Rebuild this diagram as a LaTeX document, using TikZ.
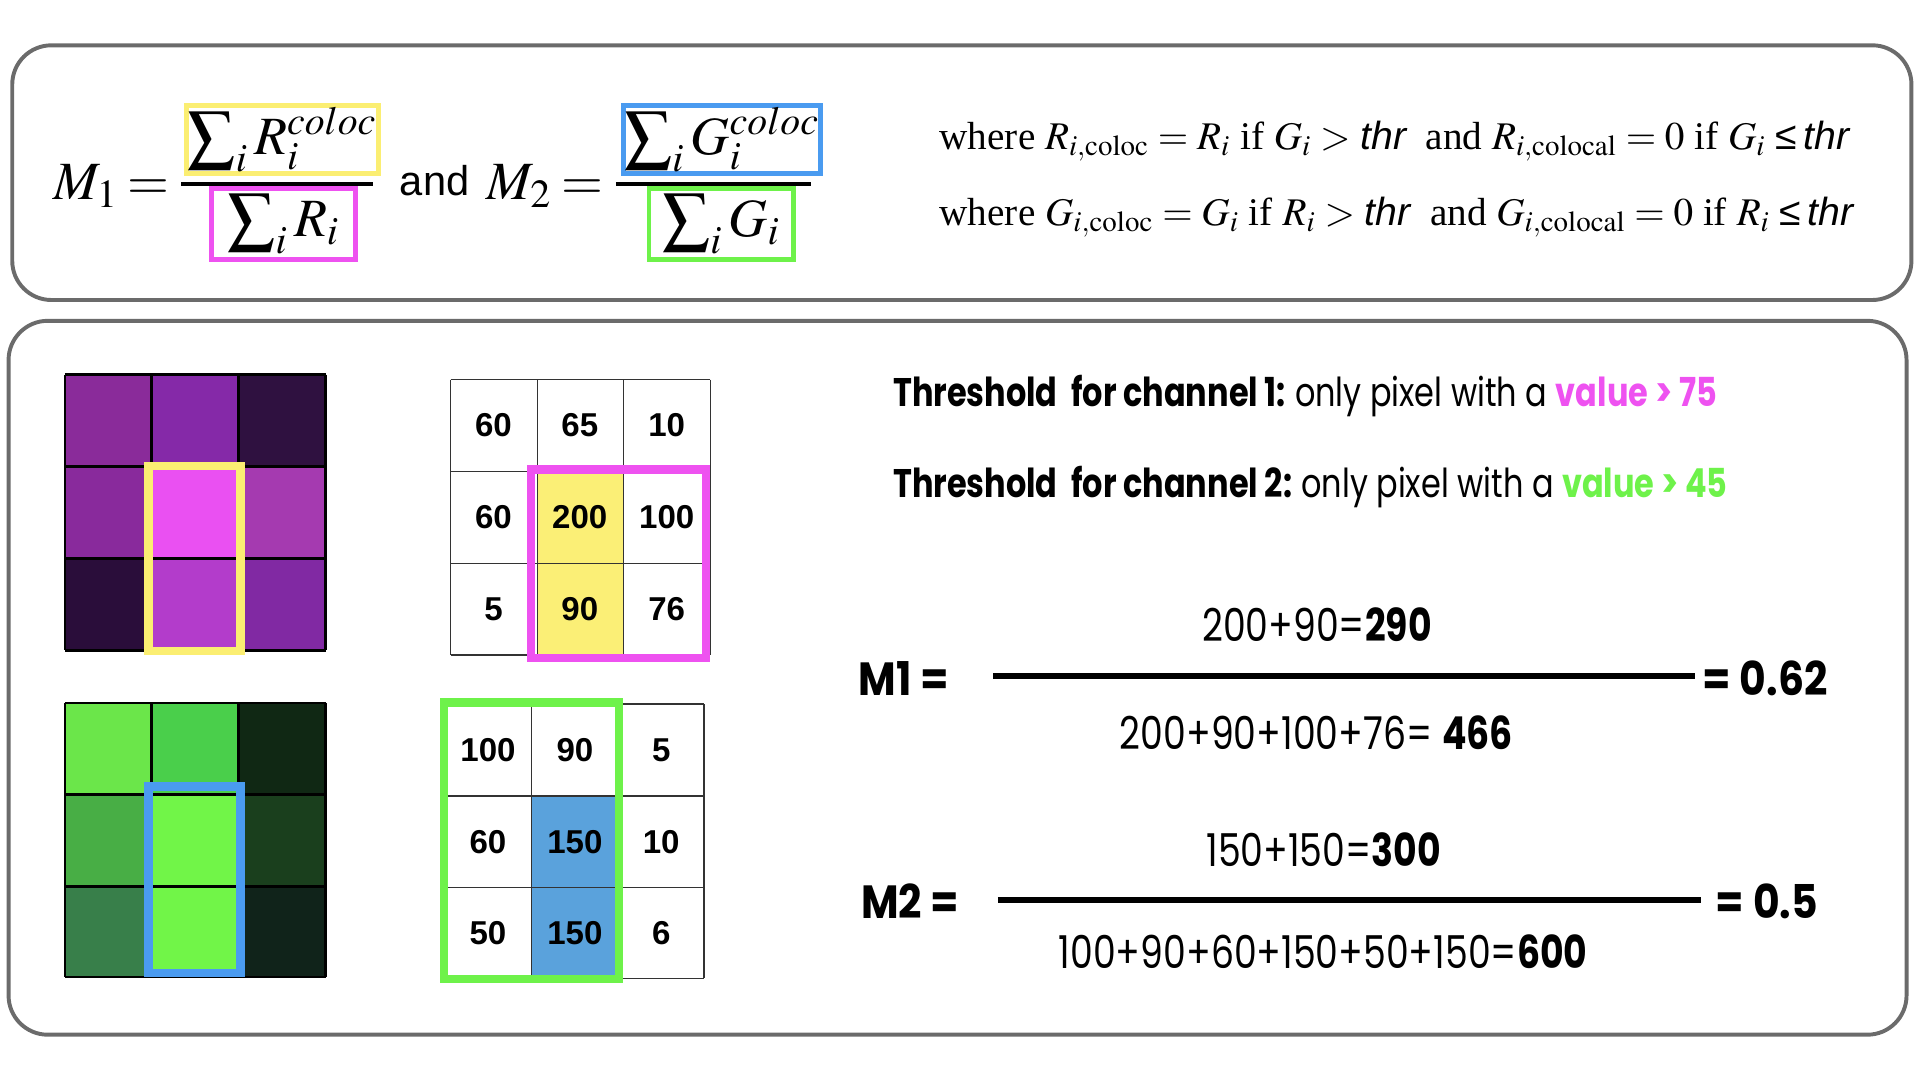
\documentclass[tikz,border=0pt]{standalone}
\usepackage{mathptmx}
\usepackage{graphicx}
\usepackage{fontspec}
\setmainfont{Liberation Serif}
\newfontfamily\helv{Liberation Sans}
\newfontfamily\gothicc[FakeStretch=0.8]{Poppins}
\newfontfamily\gothicb[FakeStretch=0.88]{Poppins}
\newcommand\fsz[1]{\fontsize{#1}{#1}\selectfont}
\newcommand\bsum{\mathop{\vcenter{\hbox{\scalebox{1.25}{$\textstyle\sum$}}}}\nolimits}
\definecolor{boxgray}{HTML}{6B6B6B}
\definecolor{ylw}{HTML}{FBEE72}
\definecolor{mag}{HTML}{EE52F0}
\definecolor{blu}{HTML}{4A9BF0}
\definecolor{grn}{HTML}{6EF24A}
\definecolor{yfill}{HTML}{FBEF76}
\definecolor{bfill}{HTML}{5AA2DC}
\definecolor{p11}{HTML}{8A2B9A}\definecolor{p12}{HTML}{8529A8}\definecolor{p13}{HTML}{2F1140}
\definecolor{p21}{HTML}{892A9C}\definecolor{p22}{HTML}{EA50F2}\definecolor{p23}{HTML}{A53AB0}
\definecolor{p31}{HTML}{2A0D3A}\definecolor{p32}{HTML}{B33CCB}\definecolor{p33}{HTML}{8129A3}
\definecolor{g11}{HTML}{6BE64A}\definecolor{g12}{HTML}{4ACF4B}\definecolor{g13}{HTML}{102814}
\definecolor{g21}{HTML}{48AE45}\definecolor{g22}{HTML}{71F548}\definecolor{g23}{HTML}{1A3F1D}
\definecolor{g31}{HTML}{387F4A}\definecolor{g32}{HTML}{71F548}\definecolor{g33}{HTML}{10231A}
\tikzset{
  panel/.style={draw=boxgray, line width=1.6pt, rounded corners=16pt},
  hbox/.style={line width=2pt, inner sep=0pt},
  mathtxt/.style={font=\fsz{22}},
  num/.style={font=\helv\bfseries\fsz{13.5}, inner sep=0pt},
  gline/.style={draw=black!80, line width=0.5pt},
  pxline/.style={draw=black, line width=1.1pt},
  hilite/.style={line width=3.5pt},
  fracbar/.style={line width=2.6pt},
  gtxt/.style={font=\gothicc\fsz{18.5}, inner sep=0pt},
  gbold/.style={font=\gothicb\bfseries\fsz{19}, inner sep=0pt},
  thr/.style={font=\gothicc\fsz{16.3}, inner sep=0pt},
}
\begin{document}
\begin{tikzpicture}[x=0.5pt,y=-0.5pt]
\useasboundingbox (0,0) rectangle (1568,882);
% panels
\draw[panel] (10,37) rectangle (1561,245);
\draw[panel] (7,262) rectangle (1557,845);

% top formula
\node[mathtxt, anchor=base east, inner sep=0pt] (m1) at (139,163) {$M_1$\hspace{4pt}$=$};
\node[hbox, draw=ylw, minimum width=78.5pt, minimum height=28pt, mathtxt] (ynum) at (230.5,114) {\raisebox{1.5pt}{$\bsum_i R_i^{coloc}$}};
\node[hbox, draw=mag, minimum width=58.5pt, minimum height=29pt, mathtxt] (mden) at (231.5,183) {\raisebox{1pt}{$\bsum_i R_i$}};
\draw[line width=1.5pt] (148,150) -- (305,150);
\node[font=\helv\fsz{17}, anchor=base, inner sep=0pt] (and) at (355,160) {and};
\node[mathtxt, anchor=base east, inner sep=0pt] (m2) at (493,163) {$M_2$\hspace{4pt}$=$};
\node[hbox, draw=blu, minimum width=80.5pt, minimum height=28pt, mathtxt] (bnum) at (589.5,114) {\raisebox{1.5pt}{$\bsum_i G_i^{coloc}$}};
\node[hbox, draw=grn, minimum width=59pt, minimum height=29pt, mathtxt] (gden) at (589,183) {\raisebox{1pt}{$\bsum_i G_i$}};
\draw[line width=1.5pt] (503,150) -- (662,150);

\node[anchor=base west, inner sep=0pt, font=\fsz{16}] (w1) at (767,122)
  {where $R_{i,\mathrm{coloc}} = R_i$ if $G_i >$ {\helv\itshape thr}\ \ and $R_{i,\mathrm{colocal}} = 0$ if $G_i$ {\helv≤\,\itshape thr}};
\node[anchor=base west, inner sep=0pt, font=\fsz{16}] (w2) at (767,184)
  {where $G_{i,\mathrm{coloc}} = G_i$ if $R_i >$ {\helv\itshape thr}\ \ and $G_{i,\mathrm{colocal}} = 0$ if $R_i$ {\helv≤\,\itshape thr}};

% purple pixel grid
\foreach \c/\x/\y in {p11/53/306,p12/124/306,p13/195/306,p21/53/381,p22/124/381,p23/195/381,p31/53/456,p32/124/456,p33/195/456}
  \fill[\c] (\x,\y) rectangle ++(71,75);
\foreach \x in {53,124,195,266} \draw[pxline] (\x,306) -- (\x,531);
\foreach \y in {306,381,456,531} \draw[pxline] (53,\y) -- (266,\y);
\draw[hilite, ylw] (121.5,380.5) rectangle (196.5,531.5);

% green pixel grid
\foreach \c/\x/\y in {g11/53/574,g12/124/574,g13/195/574,g21/53/649,g22/124/649,g23/195/649,g31/53/724,g32/124/724,g33/195/724}
  \fill[\c] (\x,\y) rectangle ++(71,75);
\foreach \x in {53,124,195,266} \draw[pxline] (\x,574) -- (\x,798);
\foreach \y in {574,649,724,798} \draw[pxline] (53,\y) -- (266,\y);
\draw[hilite, blu] (121.5,642.5) rectangle (196.5,794.5);

% number grid 1
\fill[yfill] (438.67,385) rectangle (509.33,535);
\foreach \x in {368,438.67,509.33,580} \draw[gline] (\x,310) -- (\x,535);
\foreach \y in {310,385,460,535} \draw[gline] (368,\y) -- (580,\y);
\node[num] (a11) at (403,347.5) {60};
\node[num] (a12) at (473.5,347.5) {65};
\node[num] (a13) at (544.5,347.5) {10};
\node[num] (a21) at (403,422.5) {60};
\node[num] (a22) at (473.5,422.5) {200};
\node[num] (a23) at (544.5,422.5) {100};
\node[num] (a31) at (403,497.5) {5};
\node[num] (a32) at (473.5,497.5) {90};
\node[num] (a33) at (544.5,497.5) {76};
\draw[hilite, mag] (433.5,383.5) rectangle (576.5,537.5);

% number grid 2
\fill[bfill] (434,650) rectangle (505,799);
\foreach \x in {363,434,505,575} \draw[gline] (\x,575) -- (\x,799);
\foreach \y in {575,650,725,799} \draw[gline] (363,\y) -- (575,\y);
\node[num] (b11) at (398.5,612.5) {100};
\node[num] (b12) at (469.5,612.5) {90};
\node[num] (b13) at (540,612.5) {5};
\node[num] (b21) at (398.5,687.5) {60};
\node[num] (b22) at (469.5,687.5) {150};
\node[num] (b23) at (540,687.5) {10};
\node[num] (b31) at (398.5,762) {50};
\node[num] (b32) at (469.5,762) {150};
\node[num] (b33) at (540,762) {6};
\draw[hilite, grn] (362.5,573.5) rectangle (505.5,799.5);

% thresholds
\node[thr, anchor=base west] (t1) at (729,332)
  {\bfseries Threshold\ \ for channel 1: \mdseries only pixel with a \textcolor{mag}{\bfseries value > 75}};
\node[thr, anchor=base west] (t2) at (729,406)
  {\bfseries Threshold\ \ for channel 2: \mdseries only pixel with a \textcolor{grn}{\bfseries value > 45}};

% M1 fraction
\node[gbold, anchor=base west] (M1) at (701,568) {M1 =};
\coordinate (b1l) at (811,552);
\coordinate (b1r) at (1384,552);
\draw[fracbar] (b1l) -- (b1r);
\node[gbold, anchor=base east] (r1) at (1493,568) {= 0.62};
\node[gtxt, anchor=base] (n1) at (1075.5,524) {200+90=\textbf{290}};
\node[gtxt, anchor=base] (d1) at (1075,612) {200+90+100+76= \textbf{466}};

% M2 fraction
\node[gbold, anchor=base west] (M2) at (703,750) {M2 =};
\coordinate (b2l) at (815,735);
\coordinate (b2r) at (1389,735);
\draw[fracbar] (b2l) -- (b2r);
\node[gbold, anchor=base east] (r2) at (1485,750) {= 0.5};
\node[gtxt, anchor=base] (n2) at (1081,708) {150+150=\textbf{300}};
\node[gtxt, anchor=base] (d2) at (1080.5,791) {100+90+60+150+50+150=\textbf{600}};
\end{tikzpicture}
\end{document}
